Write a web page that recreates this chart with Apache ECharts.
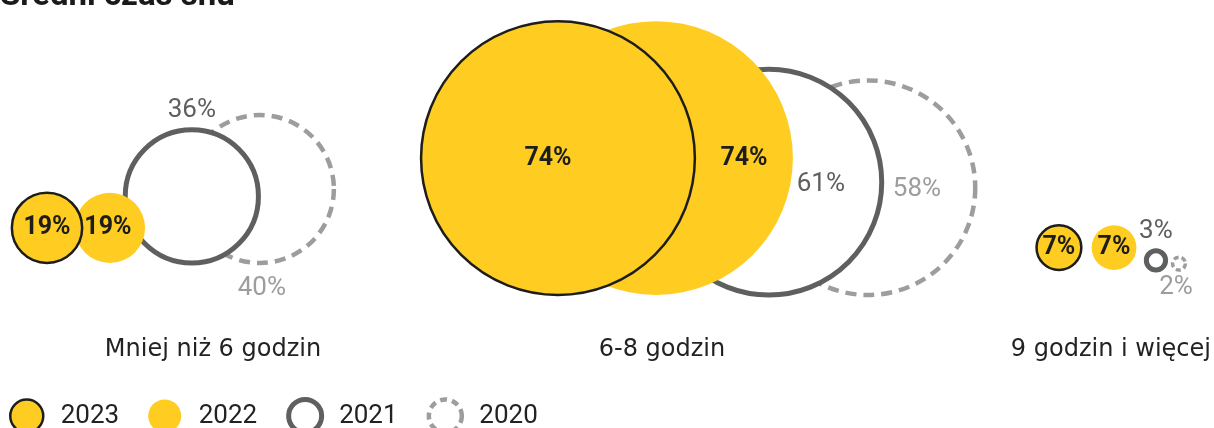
<!DOCTYPE html>
<html lang="pl">
<head>
<meta charset="utf-8" />
<title>Średni czas snu</title>
<script src="https://cdn.jsdelivr.net/npm/echarts@6/dist/echarts.min.js"></script>
</head>
<body style="margin:0;background:#fff">
<div id="chart" style="width:1214px;height:428px"></div>
<script>
// dane
const categories = ['Mniej niż 6 godzin', '6-8 godzin', '9 godzin i więcej']
const years = ['2023', '2022', '2021', '2020']
const share2023 = [19, 74, 7]
const share2022 = [19, 74, 7]
const share2021 = [36, 61, 3]
const share2020 = [40, 58, 2]
const shares = [share2023, share2022, share2021, share2020]

// układ kółek w grupie: skala promienia, przesunięcie pierwszego kółka, zachodzenie kolejnych, podniesienie
const groupLayout = [
    { scale: 1.85, shift: -166, step: [0.895, 0.805, 0.484], lift: 32 },
    { scale: 1.85, shift: -104, step: [0.358, 0.452, 0.45], lift: 0 },
    { scale: 3.2, shift: -52, step: [1.23, 1.31, 1.44], lift: 25 }
]
// gdzie stoi podpis procentu (kolejność lat jak w years)
const labelSpec = [
    [{ pos: 'inside' }, { pos: 'inside', off: [-2, 0] }, { pos: 'top', dist: 4 }, { pos: 'bottom', dist: 10, off: [2, 0] }],
    [{ pos: 'inside', off: [-10, 1] }, { pos: 'inside', off: [88, 1] }, { pos: 'inside', off: [52, 2] }, { pos: 'inside', off: [49, 2] }],
    [{ pos: 'inside' }, { pos: 'inside' }, { pos: 'top', dist: 4 }, { pos: 'bottom', dist: 3, off: [-3, 0] }]
]

const yellow = '#FFCC22'
const yearStyle = [
    { item: { color: yellow, borderColor: '#1d1d1b', borderWidth: 2.5, opacity: 1 }, label: { color: '#1d1d1b', fontWeight: 'bold', fontSize: 25 } },
    { item: { color: yellow, borderWidth: 0, opacity: 1 }, label: { color: '#1d1d1b', fontWeight: 'bold', fontSize: 25 } },
    { item: { color: '#fff', borderColor: '#5e6060', borderWidth: 5, opacity: 1 }, label: { color: '#5e6060', fontSize: 26 } },
    { item: { color: '#fff', borderColor: '#9d9d9d', borderWidth: 4.5, borderType: [11, 7], opacity: 1 }, label: { color: '#9d9d9d', fontSize: 26 } }
]
const numFont = '"Liberation Sans Narrow", Roboto, sans-serif'

// promienie i środki kółek liczone z wartości
function circles(g) {
    let lay = groupLayout[g]
    let r = shares.map(s => s[g] * lay.scale)
    let cx = [lay.shift]
    for (let i = 1; i < r.length; i++) {
        cx.push(cx[i - 1] + lay.step[i - 1] * (r[i - 1] + r[i]))
    }
    return { r, cx, lift: lay.lift }
}
const layouts = categories.map((c, g) => circles(g))

function seriesFor(yi) {
    let data = categories.map((c, g) => {
        let L = layouts[g]
        let r = L.r[yi]
        let spec = labelSpec[g][yi]
        let item = {
            value: [g, 0],
            pct: shares[yi][g],
            symbolSize: r * 2,
            symbolOffset: [L.cx[yi], -(r + L.lift)],
            label: { position: spec.pos, distance: spec.dist || 0, offset: spec.off || [0, 0] }
        }
        if (yi === 3 && g === 2) item.itemStyle = { borderType: [5, 3], borderWidth: 3.5 }
        return item
    })
    return {
        name: years[yi],
        type: 'scatter',
        symbol: 'circle',
        clip: false,
        z: 10 - yi,
        silent: true,
        itemStyle: yearStyle[yi].item,
        label: Object.assign({
            show: true,
            fontFamily: numFont,
            formatter: p => p.data.pct + '%'
        }, yearStyle[yi].label),
        data: data
    }
}

// rysujemy od 2020, żeby 2023 był na wierzchu
let series = []
for (let yi = years.length - 1; yi >= 0; yi--) series.push(seriesFor(yi))

let chart = echarts.init(document.getElementById('chart'))
chart.setOption({
    animation: false,
    title: {
        text: 'Średni czas snu',
        left: 0,
        top: -20,
        padding: 0,
        textStyle: { fontFamily: 'Roboto', fontWeight: 'bold', fontSize: 33, color: '#1a1a1a' }
    },
    legend: {
        left: 4,
        top: 392,
        itemWidth: 58,
        itemHeight: 33,
        itemGap: 29,
        selectedMode: false,
        data: [
            { name: '2023', icon: 'circle', itemStyle: { color: yellow, borderColor: '#1d1d1b', borderWidth: 2.5, opacity: 1 } },
            { name: '2022', icon: 'circle', itemStyle: { color: yellow, borderWidth: 0, opacity: 1 } },
            { name: '2021', icon: 'circle', itemStyle: { color: '#fff', borderColor: '#5e6060', borderWidth: 5, opacity: 1 } },
            { name: '2020', icon: 'circle', itemStyle: { color: '#fff', borderColor: '#9d9d9d', borderWidth: 4.5, borderType: [7, 5], opacity: 1 } }
        ],
        textStyle: { fontFamily: 'Roboto', fontSize: 26, color: '#222' }
    },
    grid: { left: 213, right: 101, top: 30, bottom: 133 },
    xAxis: {
        type: 'value',
        min: 0,
        max: 2,
        interval: 1,
        axisLine: { show: false },
        axisTick: { show: false },
        splitLine: { show: false },
        axisLabel: {
            margin: 43,
            fontFamily: '"DejaVu Sans", sans-serif',
            fontSize: 24,
            color: '#222',
            formatter: v => categories[v]
        }
    },
    yAxis: { type: 'value', min: 0, max: 1, show: false },
    series: series
})
</script>
</body>
</html>
